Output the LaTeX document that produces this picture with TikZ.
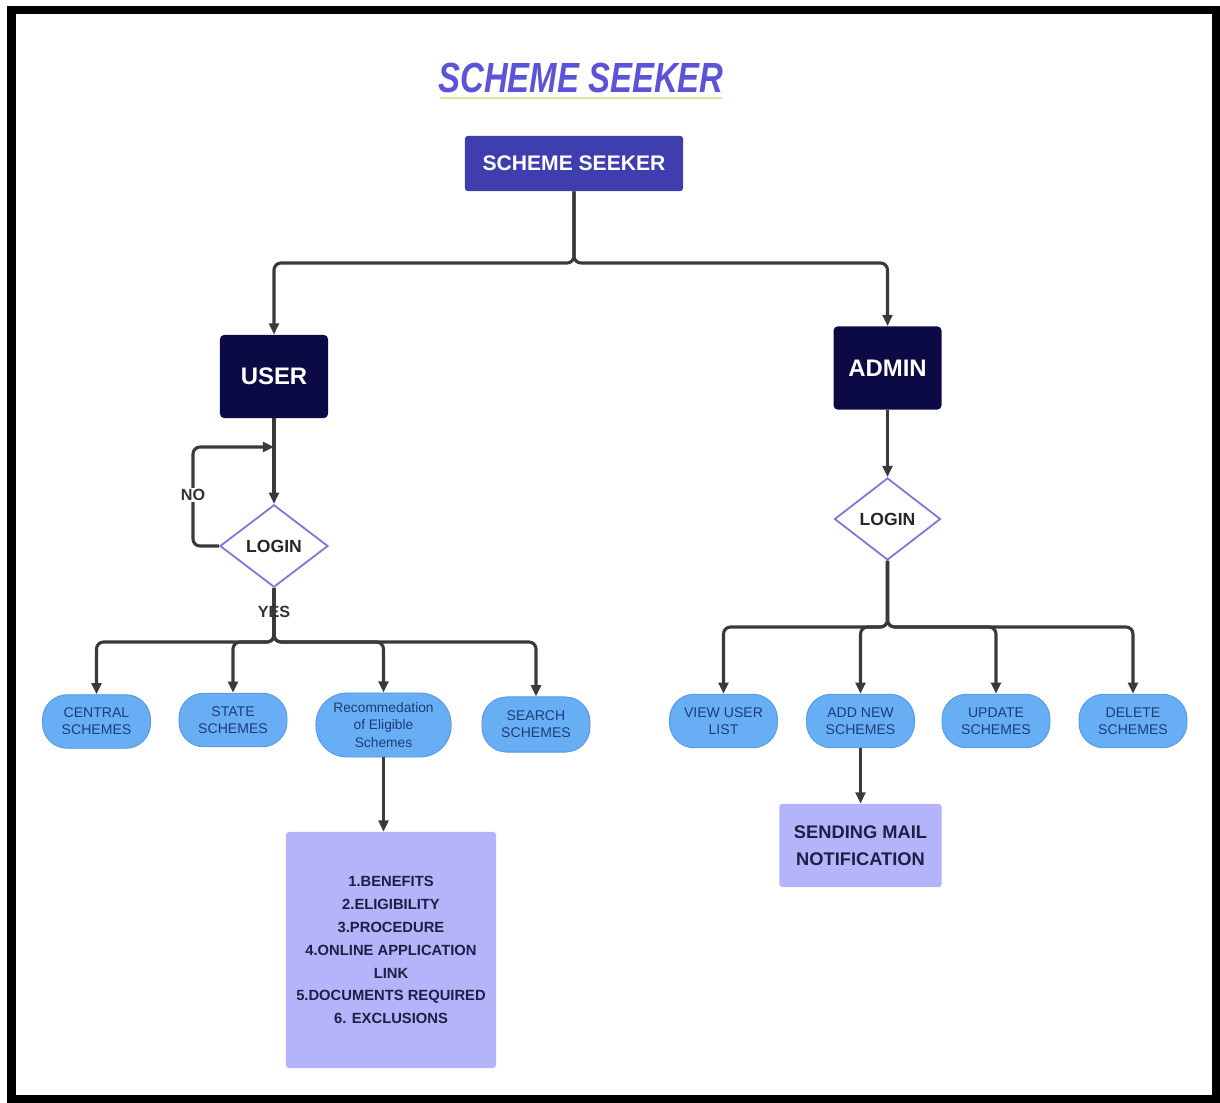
\documentclass[tikz,border=0pt]{standalone}
\usepackage{fontspec}
\setmainfont{Liberation Sans}
\usetikzlibrary{positioning,calc,arrows.meta,shapes.geometric}
\definecolor{seekblue}{RGB}{62,62,174}
\definecolor{navybox}{RGB}{12,10,69}
\definecolor{loginedge}{RGB}{123,123,217}
\definecolor{pillfill}{RGB}{104,174,244}
\definecolor{pilledge}{RGB}{84,150,226}
\definecolor{pilltext}{RGB}{30,60,120}
\definecolor{infofill}{RGB}{180,180,250}
\definecolor{infotext}{RGB}{30,30,70}
\definecolor{titleblue}{RGB}{92,84,214}
\definecolor{lineclr}{RGB}{58,58,58}
\tikzset{
  topbox/.style   = {rectangle, rounded corners=2pt, fill=seekblue, text=white,
                     font=\bfseries\fontsize{15}{18}\selectfont,
                     minimum width=5.45cm, minimum height=1.38cm},
  rolebox/.style  = {rectangle, rounded corners=3pt, fill=navybox, text=white,
                     font=\bfseries\fontsize{17}{20}\selectfont,
                     minimum width=2.7cm, minimum height=2.08cm},
  logindia/.style = {diamond, draw=loginedge, line width=1.3pt, fill=white, inner sep=0pt,
                     font=\bfseries\fontsize{12.5}{15}\selectfont, text=black!85,
                     minimum width=2.7cm, minimum height=2.06cm},
  pill/.style     = {rectangle, rounded corners=0.62cm, fill=pillfill, draw=pilledge,
                     line width=0.6pt, text=pilltext, align=center,
                     font=\fontsize{10}{12}\selectfont,
                     minimum width=2.7cm, minimum height=1.34cm, inner sep=1pt},
  infobox/.style  = {rectangle, rounded corners=2pt, fill=infofill, text=infotext,
                     align=center, inner sep=2pt},
  lbl/.style      = {font=\bfseries\fontsize{11.5}{13}\selectfont, text=black!80, inner sep=1pt},
  conn/.style     = {draw=lineclr, line width=2.2pt, rounded corners=5pt,
                     -{Triangle[length=8pt,width=7pt]}}
}
\begin{document}
\begin{tikzpicture}[x=0.025cm,y=-0.025cm]
    \useasboundingbox (0,0) rectangle (1220,1102);
    % outer frame
    \draw[line width=5.7pt] (11.5,10) rectangle (1216,1099);

    % heading
    \node[text=titleblue, font=\bfseries\itshape\fontsize{30}{32}\selectfont,
          xscale=0.78, transform shape] (title) at (581,78) {SCHEME SEEKER};
    \draw[color=black!30!yellow!40!white, line width=1.4pt] (440,98) -- (722,98);

    % top of the tree
    \node[topbox]  (seek)  at (574,163.5) {SCHEME SEEKER};
    \node[rolebox] (user)  at (274,376.5) {USER};
    \node[rolebox] (admin) at (887.5,368) {ADMIN};
    \coordinate (tsplit) at (574,263);
    \draw[conn] (seek.south) -- (tsplit) -| (user);
    \draw[conn] (seek.south) -- (tsplit) -| (admin);

    % user side
    \node[logindia] (ulogin) at (274,546) {LOGIN};
    \draw[conn] (user) -- (ulogin);
    \coordinate (ujoin)  at (274,447);
    \coordinate (nobend) at (193,546);
    \draw[conn] (ulogin.west) -- (nobend) |- (ujoin);
    \node[lbl, fill=white] (nolbl) at (193,495) {NO};

    \node[pill] (central) at (96.5,721.5) {CENTRAL\\SCHEMES};
    \node[pill] (state)   at (233,720)    {STATE\\SCHEMES};
    \node[pill, minimum width=3.38cm, minimum height=1.6cm, rounded corners=0.78cm,
          font=\fontsize{9.8}{12.5}\selectfont]
                (recom)   at (383.5,725)  {Recommedation\\of Eligible\\Schemes};
    \node[pill, minimum height=1.38cm] (search) at (536,724.5) {SEARCH\\SCHEMES};

    \coordinate (ysplit) at (274,642);
    \foreach \kid in {central,state,recom,search}
      \draw[conn] (ulogin.south) -- (ysplit) -| (\kid);
    \node[lbl] (yeslbl) at (274,612) {YES};

    \node[infobox, minimum width=5.25cm, minimum height=5.9cm,
          font=\bfseries\fontsize{10.5}{16.3}\selectfont]
      (details) at (391,950)
      {1.BENEFITS\\2.ELIGIBILITY\\3.PROCEDURE\\4.ONLINE APPLICATION\\LINK\\
       5.DOCUMENTS REQUIRED\\6. EXCLUSIONS};
    \draw[conn] (recom.south) -- (recom.south |- details.north);

    % admin side
    \node[logindia, minimum width=2.65cm, minimum height=2.05cm] (alogin) at (887.5,519) {LOGIN};
    \draw[conn] (admin) -- (alogin);

    \node[pill] (viewusr) at (723.5,721) {VIEW USER\\LIST};
    \node[pill] (addnew)  at (860.5,721) {ADD NEW\\SCHEMES};
    \node[pill] (update)  at (996,721)   {UPDATE\\SCHEMES};
    \node[pill] (delete)  at (1133,721)  {DELETE\\SCHEMES};

    \coordinate (asplit) at (887.5,627);
    \foreach \kid in {viewusr,addnew,update,delete}
      \draw[conn] (alogin.south) -- (asplit) -| (\kid);

    \node[infobox, minimum width=4.05cm, minimum height=2.08cm,
          font=\bfseries\fontsize{13}{19}\selectfont]
      (mail) at (860.5,845.5) {SENDING MAIL\\NOTIFICATION};
    \draw[conn] (addnew) -- (mail);
\end{tikzpicture}
\end{document}
